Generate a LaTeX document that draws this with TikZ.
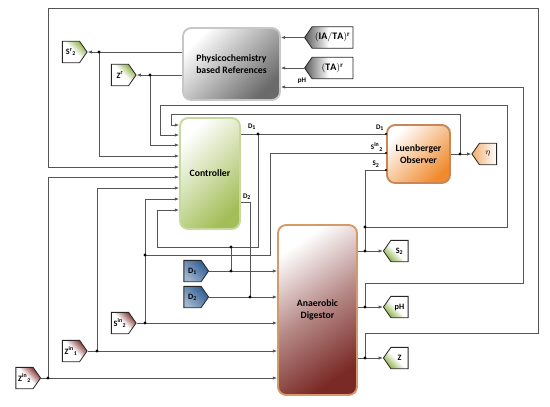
\documentclass[tikz,border=0pt]{standalone}
\usepackage{fontspec}
\setmainfont{Carlito}
\usetikzlibrary{shapes.symbols,arrows.meta}
\definecolor{RefGray}{HTML}{6A6A6A}
\definecolor{CtrlGreen}{HTML}{A3BE58}
\definecolor{CtrlEdge}{HTML}{C6DA9C}
\definecolor{ObsOrange}{HTML}{F08A2E}
\definecolor{ObsEdge}{HTML}{C98758}
\definecolor{DigRed}{HTML}{7A2A26}
\definecolor{DigEdge}{HTML}{D49A6A}
\definecolor{TagGreen}{HTML}{86AD40}
\definecolor{TagBlue}{HTML}{2C5B92}
\definecolor{WireGray}{HTML}{555555}

\begin{document}
\begin{tikzpicture}[
    x=0.03cm, y=-0.03cm,
    wire/.style={draw=WireGray, line width=0.6pt},
    arrow/.style={wire, -{Latex[length=3.6pt,width=2.8pt]}},
    block/.style={rounded corners=7pt, line width=1.6pt, align=center, inner sep=0pt,
                  font=\fontsize{8.3}{10}\selectfont\bfseries},
    refbox/.style={block, draw=black!22, top color=white, bottom color=RefGray, shading angle=45,
                   minimum width=2.91cm, minimum height=2.16cm},
    ctrlbox/.style={block, draw=CtrlEdge, top color=white, bottom color=CtrlGreen, shading angle=45,
                    minimum width=1.8cm, minimum height=3.33cm},
    obsbox/.style={block, draw=ObsEdge, top color=white, bottom color=ObsOrange, shading angle=45,
                   minimum width=1.89cm, minimum height=1.74cm},
    digbox/.style={block, draw=DigEdge, top color=white, bottom color=DigRed, middle color=DigRed!55!white,
                   shading angle=35, minimum width=2.37cm, minimum height=5.1cm},
    tagbase/.style={shape=signal, signal pointer angle=110, draw=black!85, line width=0.7pt,
                    inner sep=0pt, minimum width=0.74cm, minimum height=0.64cm,
                    font=\fontsize{7}{8}\selectfont\bfseries},
    tagright/.style={tagbase, signal to=east},
    tagleft/.style={tagbase, signal to=west},
    outgreen/.style={top color=TagGreen, bottom color=white, middle color=white, shading angle=-45},
    ingreen/.style={bottom color=TagGreen, top color=white, middle color=white, shading angle=-45},
    redfill/.style={top color=DigRed, bottom color=white, middle color=white, shading angle=-45},
    bluefill/.style={top color=TagBlue, bottom color=TagBlue!45!white, shading angle=-45},
    grayfill/.style={left color=black!65, right color=white, middle color=white,
                     minimum width=1.45cm, font=\fontsize{8.5}{9}\selectfont},
    etafill/.style={left color=ObsOrange!70!white, right color=white},
    lbl/.style={font=\fontsize{6}{6}\selectfont\bfseries, inner sep=0.5pt}
]
    \useasboundingbox (0,0) rectangle (550,406);

    % main blocks
    \node[refbox] (phys) at (231.5,64) {Physicochemistry\\based References};
    \node[ctrlbox] (ctrl) at (210,173.5) {Controller};
    \node[obsbox] (luen) at (418.5,154) {Luenberger\\Observer};
    \node[digbox] (dig) at (317.5,310) {Anaerobic\\Digestor};

    % tags
    \node[tagright, outgreen] (sr) at (71,52) {S\textsuperscript{r}\textsubscript{2}};
    \node[tagright, outgreen] (zr) at (120,75) {Z\textsuperscript{r}};
    \node[tagleft, grayfill] (iata) at (332.5,37.5) {$\mathbf{(IA/TA)^{r}}$};
    \node[tagleft, grayfill] (ta) at (332.5,68) {$\mathbf{(TA)^{r}}$};
    \node[tagleft, etafill] (eta) at (488,154) {$\eta$};
    \node[tagleft, ingreen] (s2) at (399.5,251) {S\textsubscript{2}};
    \node[tagleft, ingreen] (ph) at (399.5,307) {pH};
    \node[tagleft, ingreen] (z) at (399.5,358) {Z};
    \node[tagright, bluefill] (d1) at (192.5,271) {D\textsubscript{1}};
    \node[tagright, bluefill] (d2) at (192.5,297) {D\textsubscript{2}};
    \node[tagright, redfill] (sin) at (120,323) {S\textsuperscript{in}\textsubscript{2}};
    \node[tagright, redfill] (zin1) at (71,351) {Z\textsuperscript{in}\textsubscript{1}};
    \node[tagright, redfill] (zin2) at (24.5,378) {Z\textsuperscript{in}\textsubscript{2}};

    % junctions
    \coordinate (jSr) at (99,52);
    \coordinate (jZr) at (150,75);
    \coordinate (jEta) at (460,154);
    \coordinate (jD1c) at (258,134);
    \coordinate (jD1) at (231,271);
    \coordinate (jD1b) at (231,247);
    \coordinate (jD2) at (250,297);
    \coordinate (jSin) at (145,323);
    \coordinate (jSinb) at (145,255);
    \coordinate (jZin1) at (97,351);
    \coordinate (jZin2) at (48,378);
    \coordinate (jS2) at (365,251);
    \coordinate (jS2b) at (365,227);
    \coordinate (jpH) at (365,307);
    \coordinate (jZ) at (365,358);

    % references
    \draw[arrow] (iata.west) -- (phys.east |- iata.west);
    \draw[arrow] (ta.west) -- (phys.east |- ta.west);
    \draw[arrow] (phys.west |- sr) -- (sr.east);
    \draw[arrow] (phys.west |- zr) -- (zr.east);
    \draw[arrow] (jSr) |- (ctrl.west |- 0,156);
    \draw[arrow] (jZr) |- (ctrl.west |- 0,145);

    % observer
    \draw[arrow] (luen.east) -- (eta.west);
    \draw[arrow] (jEta) |- (171,114) |- (ctrl.west |- 0,125);
    \draw[wire] (ctrl.east |- jD1c) -- (luen.west |- jD1c);
    \draw[arrow] (jD1c) |- (157,247) |- (ctrl.west |- 0,210);
    \draw[wire] (jSinb) -| (270,153) -- (luen.west |- 0,153);
    \draw[wire] (jS2) |- (luen.west |- 0,170);
    \draw[arrow] (jS2b) -| (507,105) -| (160,135) -- (ctrl.west |- 0,135);
    \node[lbl] at (252,127) {D\textsubscript{1}};
    \node[lbl] at (247,197) {D\textsubscript{2}};
    \node[lbl] at (380,128) {D\textsubscript{1}};
    \node[lbl] at (377,147) {S\textsuperscript{in}\textsubscript{2}};
    \node[lbl] at (376,164) {S\textsubscript{2}};
    \node[lbl] at (302,81) {pH};

    % digester inputs
    \draw[arrow] (d1.east) -- (dig.west |- d1);
    \draw[arrow] (d2.east) -- (dig.west |- d2);
    \draw[arrow] (sin.east) -- (dig.west |- sin);
    \draw[arrow] (zin1.east) -- (dig.west |- zin1);
    \draw[arrow] (zin2.east) -- (dig.west |- zin2);
    \draw[wire] (jD1) -- (jD1b);
    \draw[wire] (ctrl.east |- 0,202) -| (jD2);
    \draw[arrow] (jSin) |- (ctrl.west |- 0,199);
    \draw[arrow] (jZin1) |- (ctrl.west |- 0,188);
    \draw[arrow] (jZin2) |- (ctrl.west |- 0,177);

    % digester outputs
    \draw[arrow] (dig.east |- s2) -- (s2.west);
    \draw[arrow] (dig.east |- ph) -- (ph.west);
    \draw[arrow] (dig.east |- z) -- (z.west);
    \draw[arrow] (jpH) |- (523,283) |- (phys.east |- 0,87);
    \draw[arrow] (jZ) |- (538,333) |- (48,8) |- (ctrl.west |- 0,167);

    \foreach \j in {jSr,jZr,jEta,jD1c,jD1,jD1b,jD2,jSin,jSinb,jZin1,jZin2,jS2,jS2b,jpH,jZ}
        \fill[black] (\j) circle[radius=1.4pt];
    \foreach \y in {134,153,170}
        \fill[black] (luen.west |- 0,\y) circle[radius=1pt];
\end{tikzpicture}
\end{document}
